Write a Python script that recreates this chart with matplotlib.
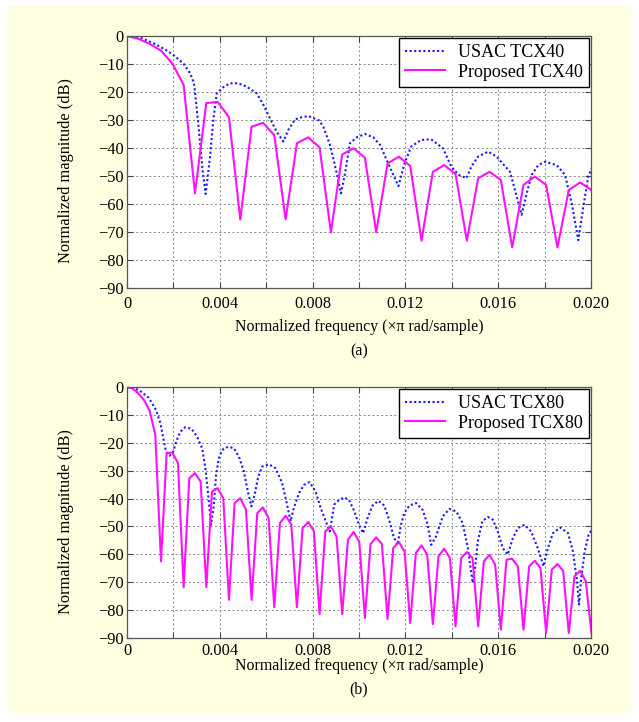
import matplotlib
matplotlib.use('Agg')
import matplotlib.pyplot as plt
import numpy as np
from matplotlib.patches import Rectangle

plt.rcParams['font.family'] = ['Liberation Serif', 'DejaVu Serif']

# ---------------- data ----------------
# Proposed TCX40: sampled every 1/2048 (x pi rad/sample)
prop40_step = 1 / 2048
prop40_db = [0, -1.0, -2.8, -5.2, -9.8, -17.5, -56.2, -24.0, -23.5, -29.0,
             -65.5, -32.4, -31.0, -35.4, -65.5, -38.3, -36.2, -39.8, -70.1, -42.3,
             -40.1, -43.5, -70.1, -45.5, -43.1, -46.4, -73.1, -48.5, -46.1, -49.3,
             -73.1, -50.8, -48.5, -51.4, -75.5, -53.2, -50.2, -53.2, -75.5, -55.0,
             -52.3, -55.0]

usac40_freq = [0, 0.00056, 0.00114, 0.00164, 0.002, 0.00243, 0.00272, 0.00289, 0.00307, 0.00326,
               0.00339, 0.00358, 0.00372, 0.00387, 0.00415, 0.00444, 0.0048, 0.00516, 0.00559, 0.00588,
               0.00616, 0.00645, 0.00674, 0.00695, 0.00724, 0.00753, 0.00782, 0.00829, 0.00846, 0.00875,
               0.00904, 0.00922, 0.0094, 0.00961, 0.0099, 0.01026, 0.01062, 0.01091, 0.01116, 0.01145,
               0.0117, 0.01196, 0.01225, 0.01268, 0.01311, 0.01362, 0.01398, 0.0143, 0.01463, 0.01484,
               0.01513, 0.01557, 0.01593, 0.01651, 0.0168, 0.01701, 0.01723, 0.01744, 0.01773, 0.01802,
               0.01852, 0.01888, 0.01917, 0.01945, 0.01967, 0.01988, 0.0201]
usac40_db = [0, -0.5, -2.6, -4.8, -6.8, -9.8, -13.3, -16.9, -31.2, -47.9,
             -56.4, -43.1, -30.0, -20.5, -18.3, -16.9, -16.9, -18.1, -20.5, -24.6,
             -29.4, -34.2, -37.7, -33.6, -29.8, -29.0, -28.6, -30.2, -32.4, -38.9,
             -49.0, -56.2, -49.0, -38.3, -36.2, -35.0, -36.2, -38.9, -43.7, -49.0,
             -53.6, -45.5, -39.5, -37.1, -36.9, -40.1, -46.7, -49.6, -50.8, -46.7,
             -43.1, -41.3, -43.1, -48.5, -57.4, -63.9, -56.2, -49.6, -46.1, -44.9,
             -46.1, -49.6, -59.8, -72.9, -61.0, -50.2, -46.0]

# Proposed TCX80: sampled every 1/4096
prop80_step = 1 / 4096
prop80_db = [0, -0.5, -2.3, -4.7, -8.5, -17.2, -62.5, -23.7, -23.5, -27.3,
             -71.8, -32.7, -30.9, -33.9, -71.8, -37.5, -36.3, -39.9, -76.3, -41.6,
             -39.9, -44.0, -76.3, -45.2, -43.2, -47.0, -79.0, -48.8, -46.2, -49.2,
             -79.0, -50.6, -48.4, -51.8, -81.4, -51.8, -50.0, -53.6, -81.4, -54.8,
             -52.0, -55.4, -82.8, -56.3, -53.9, -56.3, -83.2, -57.8, -55.6, -59.0,
             -84.6, -59.5, -56.8, -60.1, -85.0, -60.7, -58.0, -61.3, -85.8, -61.3,
             -59.2, -61.3, -85.8, -62.5, -60.2, -63.7, -87.0, -61.9, -61.6, -64.3,
             -87.0, -64.3, -62.3, -64.9, -88.2, -65.5, -63.5, -65.9, -88.2, -67.9,
             -65.9, -69.7, -88.2]

usac80_freq = [0, 0.0005, 0.00093, 0.00125, 0.00144, 0.00158, 0.00168, 0.00183, 0.00197, 0.00212,
               0.0023, 0.00252, 0.00278, 0.00302, 0.00324, 0.00338, 0.0035, 0.00362, 0.00373, 0.00384,
               0.00396, 0.00408, 0.00418, 0.00439, 0.00461, 0.00482, 0.00504, 0.00521, 0.00536, 0.0055,
               0.00566, 0.00583, 0.00612, 0.0064, 0.00669, 0.0069, 0.00705, 0.00719, 0.00741, 0.00763,
               0.00787, 0.00813, 0.00835, 0.00857, 0.00874, 0.00893, 0.00914, 0.00936, 0.00957, 0.00979,
               0.01, 0.01018, 0.01037, 0.01058, 0.01084, 0.01109, 0.0113, 0.01149, 0.01166, 0.01181,
               0.01195, 0.01217, 0.01246, 0.01274, 0.01296, 0.01311, 0.01332, 0.01361, 0.0139, 0.01419,
               0.01447, 0.01469, 0.01483, 0.0149, 0.01502, 0.01512, 0.01531, 0.01555, 0.01577, 0.01598,
               0.0162, 0.01641, 0.01663, 0.01685, 0.01713, 0.01742, 0.01771, 0.01795, 0.01814, 0.01836,
               0.01868, 0.01901, 0.01922, 0.0194, 0.01948, 0.01958, 0.01973, 0.01991, 0.0201]
usac80_db = [0, -1.0, -3.8, -8.2, -13.0, -19.0, -23.2, -24.6, -23.7, -19.6,
             -16.0, -14.4, -15.0, -17.8, -22.0, -29.1, -38.7, -49.4, -43.4, -31.5,
             -25.5, -23.0, -22.0, -21.4, -22.0, -24.9, -30.3, -37.5, -42.8, -38.7,
             -32.1, -28.5, -27.7, -29.1, -34.5, -42.2, -48.2, -43.4, -38.1, -35.1,
             -34.1, -37.5, -43.4, -48.2, -51.8, -42.2, -40.5, -39.6, -40.5, -44.4,
             -49.4, -52.4, -47.0, -42.5, -40.8, -42.5, -47.6, -53.6, -56.6, -49.4,
             -45.2, -42.5, -41.6, -44.0, -49.4, -56.6, -53.6, -46.4, -43.7, -44.6,
             -48.8, -57.8, -66.1, -70.3, -63.7, -55.4, -48.2, -46.6, -47.6, -51.8,
             -57.8, -60.1, -54.2, -50.6, -49.4, -51.8, -57.8, -64.3, -57.8, -52.4,
             -50.4, -52.4, -58.9, -69.7, -78.0, -68.5, -58.9, -52.4, -51.0]

xtick_vals = [0, 0.002, 0.004, 0.006, 0.008, 0.010, 0.012, 0.014, 0.016, 0.018, 0.020]
xtick_labels = ['0', '', '0.004', '', '0.008', '', '0.012', '', '0.016', '', '0.020']
ytick_vals = [-90, -80, -70, -60, -50, -40, -30, -20, -10, 0]
ytick_labels = ['\u221290', '\u221280', '\u221270', '\u221260', '\u221250',
                '\u221240', '\u221230', '\u221220', '\u221210', '0']

W, H = 639, 722
fig = plt.figure(figsize=(W / 100, H / 100), dpi=100)
fig.patch.set_facecolor('white')
fig.patches.append(Rectangle((8 / W, 1 - 713 / H), (631 - 8) / W, (713 - 6) / H,
                             transform=fig.transFigure, facecolor='#FFFFE1',
                             edgecolor='none', zorder=-10))

BLUE = '#1818FF'
MAG = '#FF10FF'
LABEL_FS = 11.4


def make_panel(top, bottom, usac_f, usac_db, prop_step, prop_db, lab_usac, lab_prop,
               caption, xl_y, cap_y, xpad):
    ax = fig.add_axes([127 / W, 1 - bottom / H, 464 / W, (bottom - top) / H])
    ax.set_facecolor('white')
    prop_f = np.arange(len(prop_db)) * prop_step
    ax.plot(usac_f, usac_db, color=BLUE, linestyle=(0, (1, 1.2)), linewidth=1.5, label=lab_usac)
    ax.plot(prop_f, prop_db, color=MAG, linestyle='-', linewidth=1.5, label=lab_prop)
    ax.set_xlim(0, 0.02)
    ax.set_ylim(-90, 0)
    ax.set_xticks(xtick_vals)
    ax.set_xticklabels(xtick_labels)
    ax.set_yticks(ytick_vals)
    ax.set_yticklabels(ytick_labels)
    ax.tick_params(direction='in', length=4, top=True, right=True, labelsize=11.8,
                   color='#444444', width=0.8)
    ax.tick_params(axis='x', pad=xpad)
    ax.tick_params(axis='y', pad=2.5)
    ax.grid(True, color='#888888', linestyle=(0, (2, 2.5)), linewidth=0.7)
    for s in ax.spines.values():
        s.set_color('#555555')
        s.set_linewidth(0.9)
    leg = ax.legend(loc='upper right', fancybox=False, framealpha=1, edgecolor='black',
                    fontsize=13, handlelength=2.2, borderaxespad=0.12, borderpad=0.35,
                    labelspacing=0.12, handletextpad=0.7)
    leg.get_frame().set_linewidth(1.0)
    fig.text(359 / W, 1 - xl_y / H, 'Normalized frequency (\u00d7\u03c0 rad/sample)',
             ha='center', va='center', fontsize=LABEL_FS)
    fig.text(66 / W, 1 - ((top + bottom) / 2 + 9) / H, 'Normalized magnitude (dB)',
             ha='center', va='center', rotation=90, fontsize=LABEL_FS + 0.4)
    fig.text(359 / W, 1 - cap_y / H, caption, ha='center', va='center', fontsize=LABEL_FS)
    return ax


make_panel(36, 288, usac40_freq, usac40_db, prop40_step, prop40_db,
           'USAC TCX40', 'Proposed TCX40', '(a)', 326.7, 351.7, 6.0)
make_panel(387, 638, usac80_freq, usac80_db, prop80_step, prop80_db,
           'USAC TCX80', 'Proposed TCX80', '(b)', 666, 689, 3.5)

fig.savefig('out.png', dpi=100, facecolor=fig.get_facecolor())
